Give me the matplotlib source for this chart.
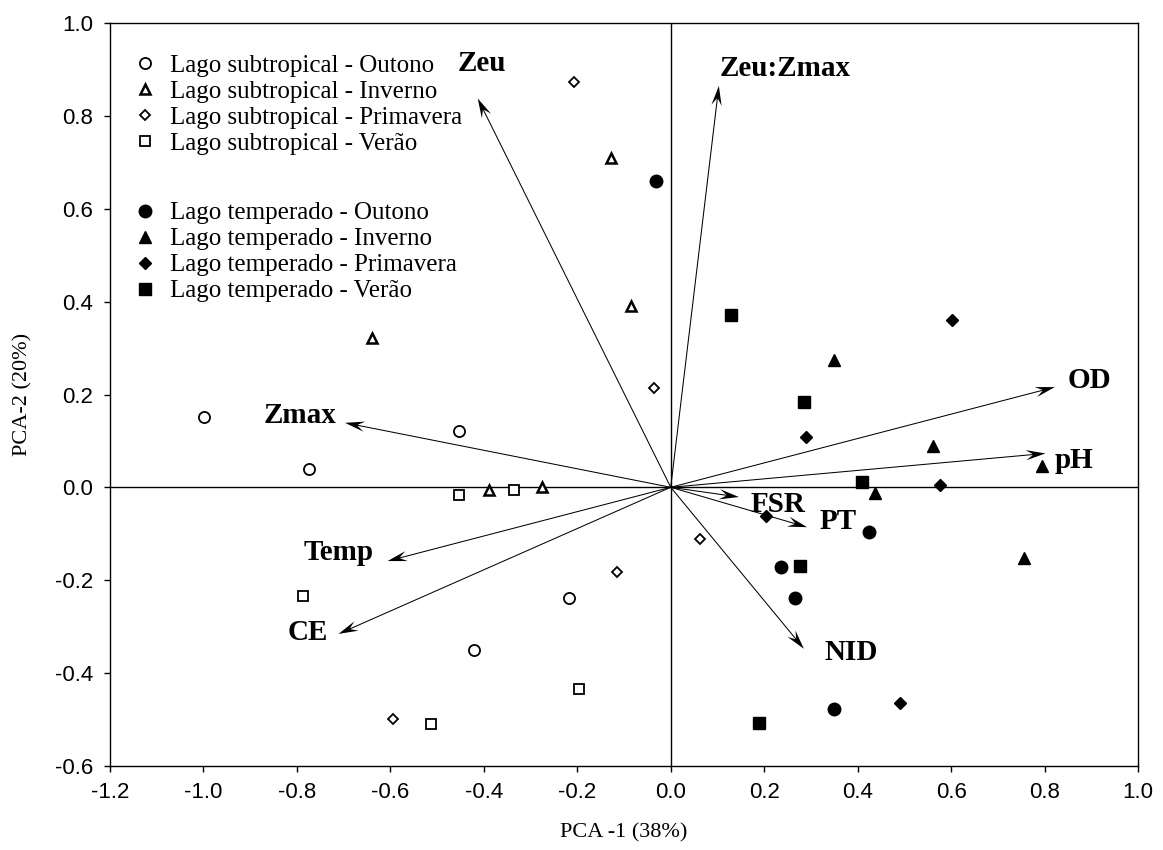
import numpy as np
import matplotlib
matplotlib.use("Agg")
import matplotlib.pyplot as plt

# scores - subtropical lake (open markers)
sub_out_x = [-0.998, -0.774, -0.453, -0.217, -0.420]
sub_out_y = [0.152, 0.040, 0.122, -0.239, -0.350]
sub_inv_x = [-0.640, -0.128, -0.086, -0.388, -0.275]
sub_inv_y = [0.322, 0.709, 0.390, -0.005, 0.001]
sub_pri_x = [-0.208, -0.035, 0.063, -0.116, -0.595]
sub_pri_y = [0.874, 0.213, -0.111, -0.182, -0.499]
sub_ver_x = [-0.453, -0.335, -0.787, -0.196, -0.512]
sub_ver_y = [-0.016, -0.005, -0.235, -0.434, -0.510]

# scores - temperate lake (filled markers)
tem_out_x = [-0.031, 0.424, 0.237, 0.265, 0.350]
tem_out_y = [0.660, -0.097, -0.172, -0.239, -0.477]
tem_inv_x = [0.349, 0.561, 0.795, 0.437, 0.756]
tem_inv_y = [0.275, 0.090, 0.045, -0.012, -0.152]
tem_pri_x = [0.601, 0.289, 0.576, 0.203, 0.490]
tem_pri_y = [0.360, 0.108, 0.006, -0.0625, -0.465]
tem_ver_x = [0.128, 0.285, 0.410, 0.276, 0.188]
tem_ver_y = [0.372, 0.183, 0.011, -0.170, -0.508]

# loadings (arrow tips) and label positions
var_names = ['Zeu', 'Zeu:Zmax', 'OD', 'pH', 'FSR', 'PT', 'NID', 'CE', 'Temp', 'Zmax']
var_x = [-0.413, 0.103, 0.822, 0.802, 0.146, 0.292, 0.285, -0.711, -0.606, -0.697]
var_y = [0.838, 0.865, 0.216, 0.073, -0.021, -0.086, -0.348, -0.316, -0.159, 0.139]
lab_x = [-0.404, 0.245, 0.897, 0.863, 0.230, 0.358, 0.387, -0.776, -0.711, -0.793]
lab_y = [0.914, 0.903, 0.231, 0.058, -0.037, -0.073, -0.356, -0.314, -0.141, 0.154]

sub_labels = ['Lago subtropical - Outono', 'Lago subtropical - Inverno',
              'Lago subtropical - Primavera', 'Lago subtropical - Verão']
tem_labels = ['Lago temperado - Outono', 'Lago temperado - Inverno',
              'Lago temperado - Primavera', 'Lago temperado - Verão']

serif = ['Liberation Serif', 'DejaVu Serif']
sans = ['Liberation Sans', 'DejaVu Sans']

fig = plt.figure(figsize=(11.63, 8.5), dpi=100)
ax = fig.add_axes([110/1163, 1-765.7/850, 1028/1163, 742.4/850])

ax.axhline(0, color='black', lw=1.0, zorder=1)
ax.axvline(0, color='black', lw=1.0, zorder=1)

# arrows
for i in range(len(var_names)):
    ax.arrow(0, 0, var_x[i], var_y[i], width=0.0022, head_width=0.022,
             head_length=0.042, overhang=0.35, length_includes_head=True,
             fc='black', ec='none', zorder=2)
    ax.text(lab_x[i], lab_y[i], var_names[i], ha='center', va='center',
            fontsize=21, fontweight='bold', family=serif, zorder=4)

op = dict(ls='none', mfc='white', mec='black')
fl = dict(ls='none', mfc='black', mec='black', mew=1.0)
h1 = []
h1 += ax.plot(sub_out_x, sub_out_y, marker='o', ms=8, mew=1.3, **op)
h1 += ax.plot(sub_inv_x, sub_inv_y, marker='^', ms=7.5, mew=1.8, **op)
h1 += ax.plot(sub_pri_x, sub_pri_y, marker='D', ms=5.6, mew=1.3, **op)
h1 += ax.plot(sub_ver_x, sub_ver_y, marker='s', ms=7.8, mew=1.3, **op)
h2 = []
h2 += ax.plot(tem_out_x, tem_out_y, marker='o', ms=9, **fl)
h2 += ax.plot(tem_inv_x, tem_inv_y, marker='^', ms=9, **fl)
h2 += ax.plot(tem_pri_x, tem_pri_y, marker='D', ms=6.5, **fl)
h2 += ax.plot(tem_ver_x, tem_ver_y, marker='s', ms=8.8, **fl)

leg_kw = dict(loc='upper left', frameon=False, borderpad=0, borderaxespad=0,
              handlelength=0.8, handletextpad=0.6, labelspacing=0.14,
              prop={'family': serif, 'size': 18})
leg1 = ax.legend(h1, sub_labels, bbox_to_anchor=(0.0243, 0.958), **leg_kw)
ax.add_artist(leg1)
ax.legend(h2, tem_labels, bbox_to_anchor=(0.0243, 0.7594), **leg_kw)

ax.set_xlim(-1.2, 1.0)
ax.set_ylim(-0.6, 1.0)
xt = [-1.2, -1.0, -0.8, -0.6, -0.4, -0.2, 0.0, 0.2, 0.4, 0.6, 0.8, 1.0]
yt = [-0.6, -0.4, -0.2, 0.0, 0.2, 0.4, 0.6, 0.8, 1.0]
ax.set_xticks(xt)
ax.set_yticks(yt)
ax.set_xticklabels(['%.1f' % v for v in xt], family=sans, fontsize=16)
ax.set_yticklabels(['%.1f' % v for v in yt], family=sans, fontsize=16)
ax.tick_params(direction='out', length=4, width=1.0, pad=8)
for s in ax.spines.values():
    s.set_linewidth(1.0)

ax.set_xlabel('PCA -1 (38%)', family=serif, fontsize=16, labelpad=14)
ax.set_ylabel('PCA-2 (20%)', family=serif, fontsize=16, labelpad=16)

fig.savefig('out.png', dpi=100)
